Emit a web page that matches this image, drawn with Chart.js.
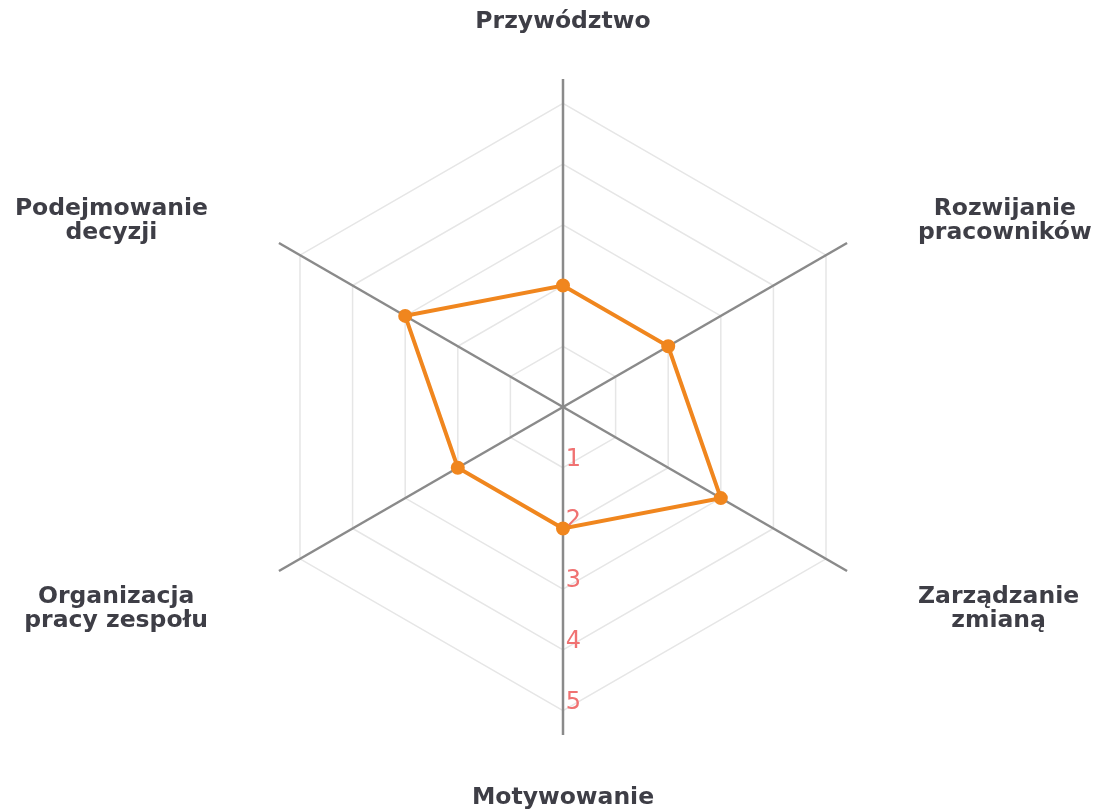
<!DOCTYPE html>
<html lang="pl">
<head>
<meta charset="utf-8">
<title>Profil kompetencji</title>
<script src="https://cdn.jsdelivr.net/npm/chart.js@4"></script>
<style>
  html, body { margin: 0; padding: 0; background: #fff; }
  #wrap { width: 1107px; height: 809px; position: relative; }
</style>
</head>
<body>
<div id="wrap"><canvas id="chart"></canvas></div>
<script>
// axes go clockwise starting from the bottom one (startAngle 180)
const LABELS = [
  ['Motywowanie'],
  ['Organizacja', 'pracy zespołu'],
  ['Podejmowanie', 'decyzji'],
  ['Przywództwo'],
  ['Rozwijanie', 'pracowników'],
  ['Zarządzanie', 'zmianą'],
];
const SCORES = [2, 2, 3, 2, 2, 3];
const TICK_VALUES = [1, 2, 3, 4, 5];
const SCALE_MAX = 5.4;

const ORANGE = '#f0861e';

// numbers along the first (bottom) axis, under the data line
const tickLabels = {
  id: 'tickLabels',
  beforeDatasetsDraw(chart) {
    const scale = chart.scales.r;
    const ctx = chart.ctx;
    ctx.save();
    ctx.font = '24px "DejaVu Sans"';
    ctx.fillStyle = '#f07272';
    ctx.textAlign = 'center';
    ctx.textBaseline = 'middle';
    TICK_VALUES.forEach((v) => {
      const p = scale.getPointPositionForValue(0, v);
      ctx.fillText(String(v), p.x + 10.5, p.y - 8);
    });
    ctx.restore();
  },
};

// centred multi-line axis names
const axisLabels = {
  id: 'axisLabels',
  afterDraw(chart) {
    const scale = chart.scales.r;
    const ctx = chart.ctx;
    const lineH = 24;
    ctx.save();
    ctx.font = 'bold 23.5px "DejaVu Sans"';
    ctx.fillStyle = '#3e3e46';
    ctx.textAlign = 'center';
    ctx.textBaseline = 'middle';
    LABELS.forEach((lines, i) => {
      const p = scale.getPointPosition(i, scale.drawingArea + 60);
      const w = Math.max(...lines.map((l) => ctx.measureText(l).width));
      const dx = p.x - scale.xCenter;
      let x = p.x;
      let y = p.y + 2.5;
      if (Math.abs(dx) > 1) {
        x += Math.sign(dx) * (w / 2 + 19);
        y += 5;
      }
      const top = y - ((lines.length - 1) * lineH) / 2;
      lines.forEach((line, k) => ctx.fillText(line, x, top + k * lineH));
    });
    ctx.restore();
  },
};

new Chart(document.getElementById('chart'), {
  type: 'radar',
  data: {
    labels: LABELS,
    datasets: [{
      data: SCORES,
      borderColor: ORANGE,
      backgroundColor: ORANGE,
      borderWidth: 4,
      fill: false,
      tension: 0,
      pointRadius: 6,
      pointBorderWidth: 2,
      pointBackgroundColor: ORANGE,
      pointBorderColor: ORANGE,
    }],
  },
  options: {
    responsive: true,
    maintainAspectRatio: false,
    animation: false,
    layout: { padding: { top: 79, bottom: 74, left: 19, right: 0 } },
    plugins: {
      legend: { display: false },
      tooltip: { enabled: false },
    },
    scales: {
      r: {
        min: 0,
        max: SCALE_MAX,
        bounds: 'data',
        startAngle: 180,
        ticks: { display: false, stepSize: 1, includeBounds: false },
        grid: { color: '#e6e6e6', lineWidth: 1.5 },
        angleLines: { color: '#8a8a8a', lineWidth: 2.5 },
        pointLabels: { display: false },
      },
    },
  },
  plugins: [tickLabels, axisLabels],
});
</script>
</body>
</html>
